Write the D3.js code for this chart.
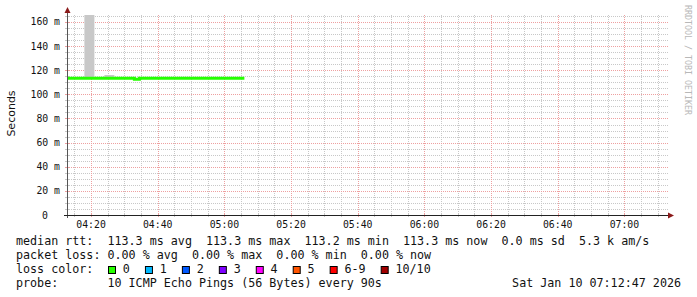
<!DOCTYPE html>
<html><head><meta charset="utf-8">
<script src="https://cdn.jsdelivr.net/npm/d3@7"></script>
<style>body{margin:0;background:#fff}svg{display:block}</style>
</head><body><svg id="c" width="697" height="297"></svg>
<script>
// ---- data ----
const graphStart = "2026-01-10T04:12:47";
const graphEnd = "2026-01-10T07:12:47";
const dataStart = "2026-01-10T04:12:00";
const stepSeconds = 90;
const yMax = 165.8; // ms, top of graph
const medianRtt = [113.3,113.3,113.3,113.3,113.3,113.3,113.3,113.3,113.3,113.3,
                   113.3,113.3,113.3,113.3,112.5,113.3,113.3,113.3,113.3,113.3,
                   113.3,113.3,113.3,113.3,113.3,113.3,113.3,113.3,113.3,113.3,
                   113.3,113.3,113.3,113.3,113.3,113.3];
const smokeMax =  [113.3,113.3,113.3,113.3,172,172,113.3,113.3,116.1,116.1,
                   113.3,113.3,113.3,113.3,112.5,113.3,113.3,113.3,113.3,113.3,
                   113.3,113.3,113.3,113.3,113.3,113.3,113.3,113.3,113.3,113.3,
                   113.3,113.3,113.3,113.3,113.3,113.3];
const yMajorTicks = [0,20,40,60,80,100,120,140,160];
const yMinorStep = 5;
const xTickLabels = ["04:20","04:40","05:00","05:20","05:40","06:00","06:20","06:40","07:00"];
const lossLevels = ["0","1","2","3","4","5","6-9","10/10"];
const lossColors = ["#26ff00","#00b8ff","#0059ff","#7e00ff","#ff00ff","#ff5500","#ff0000","#a10000"];
const legendRtt = "median rtt:  113.3 ms avg  113.3 ms max  113.2 ms min  113.3 ms now  0.0 ms sd  5.3 k am/s";
const legendLoss = "packet loss: 0.00 % avg  0.00 % max  0.00 % min  0.00 % now";
const legendColorTitle = "loss color:";
const legendProbe = "probe:       10 ICMP Echo Pings (56 Bytes) every 90s";
const stampText = "Sat Jan 10 07:12:47 2026";
const yTitle = "Seconds";
const watermark = "RRDTOOL / TOBI OETIKER";

// ---- drawing ----
const svg = d3.select("#c");
svg.append("rect").attr("width",697).attr("height",297).attr("fill","#fff");
const X0 = 67, X1 = 667, YB = 215, YT = 15;
const parse = d3.timeParse("%Y-%m-%dT%H:%M:%S");
const t0 = parse(graphStart), t1 = parse(graphEnd), d0 = parse(dataStart);
const x = d3.scaleTime().domain([t0,t1]).range([X0,X1]);
const y = d3.scaleLinear().domain([0,yMax]).range([YB,YT]);
const pts = medianRtt.map((v,i)=>({t:new Date(+d0+i*stepSeconds*1000), med:v, max:smokeMax[i]}));
// closing point for step
pts.push({t:new Date(+d0+medianRtt.length*stepSeconds*1000), med:medianRtt[medianRtt.length-1], max:smokeMax[smokeMax.length-1]});

const minorCol = "#c8c8c8", majorCol = "#eea0a0";
const g = svg.append("g");
// minor horizontal grid
const yMinor = d3.range(0, yMax, yMinorStep).filter(v=>v>0 && v%20!==0);
yMinor.forEach(v=>{
  const yy = Math.round(y(v))+0.5;
  g.append("line").attr("x1",X0).attr("x2",X1+2).attr("y1",yy).attr("y2",yy)
   .attr("stroke",minorCol).attr("stroke-dasharray","1,1");
  g.append("line").attr("x1",X0-2).attr("x2",X0+2).attr("y1",yy).attr("y2",yy).attr("stroke",minorCol);
});
// minor vertical grid every 5 min
const vMinor = d3.timeMinute.every(5).range(t0,t1).filter(t=>t.getMinutes()%20!==0);
vMinor.forEach(t=>{
  const xx = Math.round(x(t))+0.5;
  g.append("line").attr("x1",xx).attr("x2",xx).attr("y1",YT).attr("y2",YB)
   .attr("stroke",minorCol).attr("stroke-dasharray","1,1");
  g.append("line").attr("x1",xx).attr("x2",xx).attr("y1",YB-2).attr("y2",YB+2).attr("stroke",minorCol);
});
// major horizontal
yMajorTicks.filter(v=>v>0).forEach(v=>{
  const yy = Math.round(y(v))+0.5;
  g.append("line").attr("x1",X0).attr("x2",X1+2).attr("y1",yy).attr("y2",yy)
   .attr("stroke",majorCol).attr("stroke-dasharray","1,1");
  g.append("line").attr("x1",X0-2).attr("x2",X0+2).attr("y1",yy).attr("y2",yy).attr("stroke",majorCol);
});
// major vertical
const fmt = d3.timeFormat("%H:%M");
const vMajor = d3.timeMinute.every(20).range(t0,t1).filter(t=>xTickLabels.includes(fmt(t)));
vMajor.forEach(t=>{
  const xx = Math.round(x(t))+0.5;
  g.append("line").attr("x1",xx).attr("x2",xx).attr("y1",YT).attr("y2",YB)
   .attr("stroke",majorCol).attr("stroke-dasharray","1,1");
  g.append("line").attr("x1",xx).attr("x2",xx).attr("y1",YB-2).attr("y2",YB+2).attr("stroke",majorCol);
});

// clip
svg.append("clipPath").attr("id","clip").append("rect").attr("x",X0).attr("y",YT).attr("width",X1-X0).attr("height",YB-YT);
const plot = svg.append("g").attr("clip-path","url(#clip)");
// smoke
const smoke = d3.area().curve(d3.curveStepAfter).x(d=>x(d.t)).y0(d=>y(d.med)).y1(d=>y(d.max));
plot.append("path").datum(pts).attr("d",smoke).attr("fill","#c8c8c8");
// median line
const line = d3.line().curve(d3.curveStepAfter).x(d=>x(d.t)).y(d=>y(d.med));
plot.append("path").datum(pts).attr("d",line).attr("fill","none").attr("stroke",lossColors[0]).attr("stroke-width",3);

// axes
svg.append("line").attr("x1",X0+0.5).attr("x2",X0+0.5).attr("y1",YB+3).attr("y2",YT-5).attr("stroke","#555");
svg.append("line").attr("x1",X0-3).attr("x2",X1+3).attr("y1",YB+0.5).attr("y2",YB+0.5).attr("stroke","#222");
svg.append("path").attr("d",`M${X0-2.5},${YT-2}L${X0+3.5},${YT-2}L${X0+0.5},${YT-8}Z`).attr("fill","#8b1a1a");
svg.append("path").attr("d",`M${X1+1},${YB-2.5}L${X1+1},${YB+3.5}L${X1+7},${YB+0.5}Z`).attr("fill","#8b1a1a");

const mono = "'DejaVu Sans Mono', monospace";
// y labels
yMajorTicks.forEach(v=>{
  const yy = y(v)+3.5;
  if (v===0) {
    svg.append("text").attr("x",48).attr("y",yy).attr("text-anchor","end").attr("font-family",mono).attr("font-size",9.8).attr("fill","#111").text("0");
  } else {
    svg.append("text").attr("x",60).attr("y",yy).attr("text-anchor","end").attr("font-family",mono).attr("font-size",9.8).attr("fill","#111").style("white-space","pre").text(v+" m");
  }
});
// x labels
vMajor.forEach(t=>{
  svg.append("text").attr("x",x(t)).attr("y",228).attr("text-anchor","middle").attr("font-family",mono).attr("font-size",9.8).attr("fill","#111").text(fmt(t));
});
// y title
svg.append("text").attr("transform","translate(15,113.5) rotate(-90)").attr("text-anchor","middle")
  .attr("font-family","'DejaVu Sans', sans-serif").attr("font-size",11).attr("fill","#111").text(yTitle);
// watermark
svg.append("text").attr("transform","translate(685,5) rotate(90)").attr("font-family",mono).attr("font-size",8.3)
  .attr("fill","#b8b8b8").text(watermark);

// legend
const LF = 11.7, CW = LF*0.602;
function ltext(s,xx,yy,anchor){
  return svg.append("text").attr("x",xx).attr("y",yy).attr("text-anchor",anchor||"start").attr("font-family",mono)
    .attr("font-size",LF).attr("fill","#111").style("white-space","pre").text(s);
}
ltext(legendRtt,16,245);
ltext(legendLoss,16,259);
ltext(legendColorTitle,16,273);
let bx = 108;
lossLevels.forEach((lab,i)=>{
  svg.append("rect").attr("x",bx+0.5).attr("y",266.5).attr("width",7).attr("height",7)
    .attr("fill",lossColors[i]).attr("stroke","#000").attr("stroke-width",1);
  ltext(lab,bx+14.8,273);
  bx = bx + 14.8 + lab.length*CW + 15.1;
});
ltext(legendProbe,16,287);
ltext(stampText,681,287,"end");
</script></body></html>
